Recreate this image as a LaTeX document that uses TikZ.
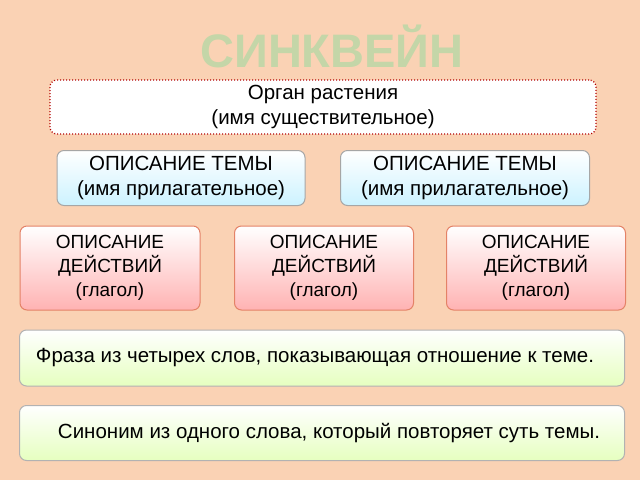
\documentclass[tikz,border=0pt]{standalone}
\usepackage{fontspec}
\setmainfont{Liberation Sans}
\begin{document}
\begin{tikzpicture}[x=1pt,y=-1pt,
  box/.style={rounded corners=7pt,draw,line width=1pt,align=center,font=\fontsize{20.5}{25}\selectfont,inner sep=0pt},
  blue/.style={box,draw=gray!70,top color=white,bottom color=blue!25!cyan!20},
  pink/.style={box,draw=red!40!brown!70,top color=white,bottom color=red!30,font=\fontsize{19}{24}\selectfont},
  green/.style={box,draw=gray!60,top color=white,bottom color=green!40!yellow!25}]
\useasboundingbox[fill={rgb,255:red,250;green,210;blue,180}] (0,0) rectangle (640,480);
\node (t) at (332,46) {\fontsize{47}{50}\selectfont\bfseries\color[RGB]{196,214,168}СИНКВЕЙН};
\node[box,draw=red!70!black,dotted,line width=1.3pt,fill=white,minimum width=546pt,minimum height=54pt] (a) at (323,107) {Орган растения\\(имя существительное)};
\node[blue,minimum width=248pt,minimum height=55pt] (b1) at (181,178) {ОПИСАНИЕ ТЕМЫ\\(имя прилагательное)};
\node[blue,minimum width=249pt,minimum height=55pt] (b2) at (465,178) {ОПИСАНИЕ ТЕМЫ\\(имя прилагательное)};
\node[pink,minimum width=180pt,minimum height=84pt] (c1) at (110,268) {ОПИСАНИЕ\\ДЕЙСТВИЙ\\(глагол)};
\node[pink,minimum width=179pt,minimum height=84pt] (c2) at (324,268) {ОПИСАНИЕ\\ДЕЙСТВИЙ\\(глагол)};
\node[pink,minimum width=179pt,minimum height=84pt] (c3) at (536,268) {ОПИСАНИЕ\\ДЕЙСТВИЙ\\(глагол)};
\node[green,minimum width=605pt,minimum height=56pt] (d) at (322,358) {Фраза из четырех слов, показывающая отношение к теме.\hspace{14pt}};
\node[green,minimum width=605pt,minimum height=55pt] (e) at (322,433) {\hspace{14pt}Синоним из одного слова, который повторяет суть темы.};
\end{tikzpicture}
\end{document}
